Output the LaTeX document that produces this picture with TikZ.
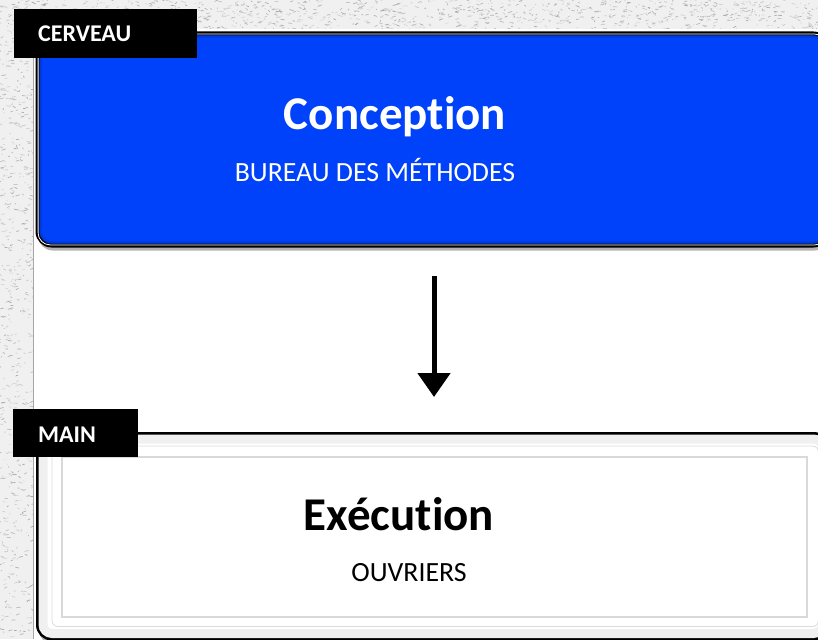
\documentclass[tikz,border=0pt]{standalone}
\usepackage{fontspec}
\setmainfont{Carlito}[Ligatures=NoCommon]
\usetikzlibrary{arrows.meta,shadows}
\definecolor{blueC}{RGB}{0,66,250}
\definecolor{stucco}{RGB}{240,240,240}
\tikzset{
  boxtop/.style={draw=black, line width=4pt, fill=blueC, rounded corners=14pt, inner sep=0pt,
    drop shadow={shadow xshift=1pt, shadow yshift=-5pt, opacity=0.3, fill=black}},
  boxbot/.style={draw=black, line width=3.5pt, fill=white, rounded corners=14pt, inner sep=0pt,
    drop shadow={shadow xshift=1pt, shadow yshift=-5pt, opacity=0.3, fill=black}},
  labelbox/.style={fill=black, inner sep=0pt, anchor=north west},
  labeltext/.style={text=white, font=\bfseries\fontsize{24}{28}\selectfont, inner sep=0pt, anchor=base west},
  titletext/.style={font=\bfseries\fontsize{47}{56}\selectfont, inner sep=0pt, anchor=base},
  subtext/.style={font=\fontsize{27.8}{33}\selectfont, inner sep=0pt, anchor=base},
  flow/.style={line width=5pt, -{Triangle[width=32pt,length=24pt]}},
}
\begin{document}
\begin{tikzpicture}[x=1pt,y=-1pt]
\useasboundingbox (0,0) rectangle (818,639);
\clip (0,0) rectangle (818,639);
% textured background
\fill[stucco] (0,0) rectangle (818,639);
\pgfmathsetseed{7}
\foreach \i in {1,...,650}{
  \pgfmathsetmacro{\xx}{rnd*34}
  \pgfmathsetmacro{\yy}{rnd*639}
  \pgfmathsetmacro{\dx}{rnd*8-4}
  \pgfmathsetmacro{\dy}{rnd*3-1.5}
  \pgfmathtruncatemacro{\gg}{25+rnd*45}
  \draw[gray!\gg, line width=0.7pt, line cap=round] (\xx,\yy) -- ++(\dx,\dy);
}
\foreach \i in {1,...,1100}{
  \pgfmathsetmacro{\xx}{rnd*818}
  \pgfmathsetmacro{\yy}{rnd*30}
  \pgfmathsetmacro{\dx}{rnd*8-4}
  \pgfmathsetmacro{\dy}{rnd*3-1.5}
  \pgfmathtruncatemacro{\gg}{25+rnd*45}
  \draw[gray!\gg, line width=0.7pt, line cap=round] (\xx,\yy) -- ++(\dx,\dy);
}
% white sheet
\fill[white] (33,29) rectangle (818,639);
\draw[gray!70, line width=0.8pt] (33,29) -- (33,639);

% top box
\node[boxtop, anchor=north west, minimum width=790pt, minimum height=212pt] (conc) at (35.5,31.5) {};
\draw[blueC!75!black, line width=2.5pt, rounded corners=11pt, opacity=0.45]
  ([shift={(5pt,-5pt)}]conc.north west) rectangle ([shift={(-5pt,5pt)}]conc.south east);
\draw[white, line width=0.8pt, rounded corners=12pt]
  ([shift={(2.6pt,-2.6pt)}]conc.north west) rectangle ([shift={(-2.6pt,2.6pt)}]conc.south east);
\node[titletext, text=white] (t1) at (395,130) {Conception};
\node[subtext, text=white] (s1) at (375,182) {BUREAU DES MÉTHODES};

% bottom box
\node[boxbot, anchor=north west, minimum width=790pt, minimum height=205pt] (exe) at (36,432) {};
\draw[gray!12, line width=9pt, rounded corners=9pt]
  ([shift={(7pt,-7pt)}]exe.north west) rectangle ([shift={(-7pt,7pt)}]exe.south east);
\draw[gray!28, line width=0.8pt, rounded corners=6pt]
  ([shift={(16pt,-14pt)}]exe.north west) rectangle ([shift={(-11pt,14pt)}]exe.south east);
\draw[gray!30, line width=1.2pt] (62,457) rectangle (807,617);
\node[titletext, text=black] (t2) at (399,530) {Exécution};
\node[subtext, text=black] (s2) at (409,581) {OUVRIERS};

% arrow
\coordinate (a1) at (434,276);
\coordinate (a2) at (434,397);
\draw[flow] (a1) -- (a2);

% labels
\node[labelbox, minimum width=183pt, minimum height=49pt] (lb1) at (14,9) {};
\node[labeltext] (lt1) at (38,42) {CERVEAU};
\node[labelbox, minimum width=125pt, minimum height=48pt] (lb2) at (13,409) {};
\node[labeltext] (lt2) at (38,442) {MAIN};
\end{tikzpicture}
\end{document}
